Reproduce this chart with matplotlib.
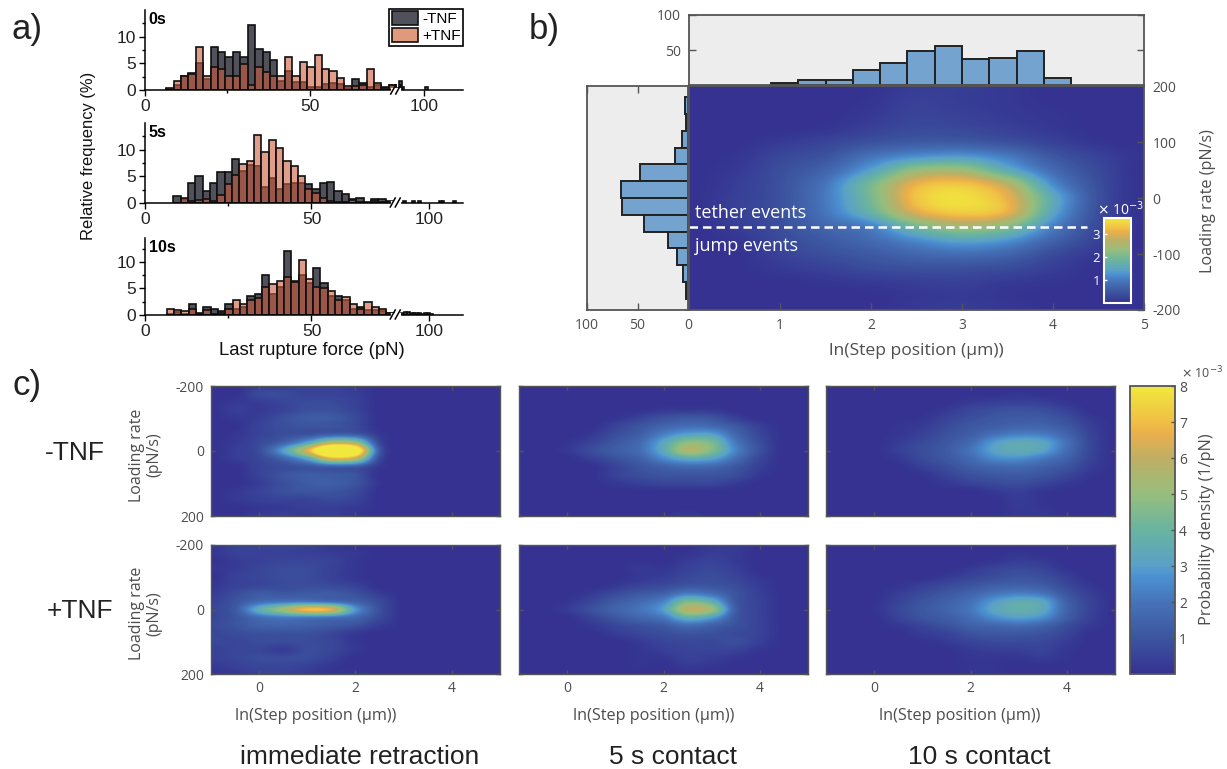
import numpy as np
import matplotlib
matplotlib.use("Agg")
import matplotlib.pyplot as plt
from matplotlib.colors import LinearSegmentedColormap, Normalize
from matplotlib.cm import ScalarMappable
from matplotlib.lines import Line2D
from matplotlib.patches import Patch

plt.rcParams["axes.unicode_minus"] = False
W, H = 1227, 769
# ---------- panel a data ----------
a_titles = ["0s", "5s", "10s"]
a_first = [6.4, 8.5, 6.5]
a_width = [2.25, 2.2, 2.2]
a_break = [76.15, 75.3, 75.3]
a_comp = [0.356, 0.4, 0.4]
a_xmax = [133, 125.8, 125.8]
a0_dark = [0.1, 1.0, 2.7, 3.1, 5.0, 2.1, 8.1, 7.1, 6.1, 7.1, 6.1, 12.1, 7.6, 7.1, 5.6, 1.6, 3.6, 1.5, 1.5, 0.6, 0.6,
           1.1, 1.3, 1.1, 0.4, 2.0, 1.3, 0.6, 0.9, 0.6, 0.9, 0.3, 1.7, 0.6, 0, 0, 0, 0, 0, 0, 0, 0, 0.6]
a0_orange = [0.4, 1.7, 2.6, 3.0, 8.0, 2.7, 4.3, 3.9, 2.6, 2.6, 4.8, 0.9, 4.3, 3.4, 2.6, 2.7, 6.2, 2.7, 5.3, 4.4, 6.6,
             4.0, 3.6, 2.2, 0.8, 0.8, 0.9, 4.0, 1.3, 0.4, 0.9, 0, 0.4, 0, 0, 0, 0, 0, 0, 0, 0, 0, 0]
a1_dark = [1.4, 0.7, 3.7, 5.0, 2.3, 3.7, 5.9, 5.9, 8.2, 6.0, 7.2, 7.0, 3.0, 4.7, 2.6, 3.6, 3.7, 3.8, 3.6, 2.6, 3.7,
           4.0, 2.3, 1.7, 0.7, 1.0, 0.1, 0.7, 0.7, 0.3, 0, 0, 0, 0.4, 0, 0, 0.3, 0, 0.3, 0, 0, 0, 0, 0, 0, 0.3, 0.3, 0, 0, 0, 0.3]
a1_orange = [0, 0.9, 0.3, 0.5, 0.8, 0.3, 1.5, 3.5, 5.2, 7.3, 7.8, 12.8, 9.6, 11.9, 10.3, 7.8, 7.0, 5.0, 2.6, 1.9, 0.9,
             0.3, 0.1, 0.1, 0.5, 0.2, 0, 0.3, 0.2, 0, 0, 0, 0, 0, 0, 0, 0, 0, 0, 0, 0, 0, 0, 0, 0, 0, 0, 0, 0, 0, 0]
a2_dark = [0.2, 0.6, 0.2, 2.0, 0.4, 1.6, 1.2, 0.8, 2.0, 1.2, 1.6, 3.6, 4.0, 7.6, 4.0, 5.3, 12.0, 6.4, 7.5, 6.0, 8.8,
           6.0, 3.6, 3.6, 2.8, 1.2, 1.5, 0.9, 0.9, 0.8, 0.4, 0, 0, 0.45, 0.5, 0.5, 0.4, 0.35, 0.3, 0.3, 0.25, 0.3, 0.3, 0.25]
a2_orange = [1.2, 0.9, 0.7, 1.1, 0.2, 0.9, 0.1, 0.3, 1.2, 2.8, 2.0, 2.8, 3.2, 5.2, 5.9, 6.4, 7.2, 6.2, 10.4, 6.8, 5.2,
             5.0, 4.5, 2.8, 3.4, 2.1, 1.2, 2.5, 1.5, 1.2, 0.3, 0, 0, 0, 0, 0, 0, 0, 0, 0, 0, 0, 0, 0]
a_dark = [a0_dark, a1_dark, a2_dark]
a_orange = [a0_orange, a1_orange, a2_orange]
a_legend = ["-TNF", "+TNF"]

# ---------- panel b data ----------
b_top_edges = [0.9, 1.2, 1.5, 1.8, 2.1, 2.4, 2.7, 3.0, 3.3, 3.6, 3.9, 4.2]
b_top_vals = [3, 7, 7, 22, 32, 48, 55, 37, 39, 48, 10]
b_left_edges = [180, 150, 120, 90, 60, 30, 0, -30, -60, -90, -120, -150, -180]
b_left_vals = [3, 1.5, 6, 13, 48, 66, 65, 44, 20, 11, 4.5, 1.5]
b_x = [0, .5, 1, 1.5, 2, 2.5, 3, 3.5, 4, 4.5, 5]
b_y = [200, 175, 150, 125, 100, 75, 50, 25, 0, -25, -50, -75, -100, -125, -150, -175, -200]
b_map = [
 [0, 0, 0, 0, .03, .15, .16, .10, 0, 0, 0],
 [0, 0, 0, 0, .05, .20, .15, .10, 0, 0, 0],
 [0, 0, 0, 0, .10, .25, .20, .12, .05, 0, 0],
 [0, 0, 0, .05, .20, .32, .30, .20, .08, 0, 0],
 [0, 0, .12, .25, .42, .55, .55, .42, .22, .05, 0],
 [0, .05, .28, .45, .90, 1.2, 1.3, 1.0, .50, .22, .03],
 [0, .10, .38, .70, 1.4, 2.3, 2.4, 1.6, .80, .32, 0],
 [0, .15, .42, .95, 2.0, 3.1, 3.3, 2.7, 1.2, .38, 0],
 [0, .18, .42, 1.0, 2.0, 3.3, 3.6, 3.1, 1.6, .42, 0],
 [0, .20, .42, .95, 1.8, 3.0, 3.4, 3.1, 1.5, .38, 0],
 [0, .15, .38, .75, 1.1, 2.0, 2.5, 2.2, 1.1, .32, 0],
 [0, .06, .32, .55, .80, 1.2, 1.5, 1.3, .70, .22, 0],
 [0, 0, .22, .40, .55, .75, .85, .72, .35, .10, 0],
 [0, 0, .12, .22, .35, .42, .42, .35, .18, 0, 0],
 [0, 0, 0, .06, .12, .18, .20, .12, .05, 0, 0],
 [0, 0, 0, 0, 0, .08, .12, .05, 0, 0, 0],
 [0, 0, 0, 0, 0, .12, .15, .10, 0, 0, 0],
]

# ---------- panel c data ----------
c_x = [-1, -.5, 0, .5, 1, 1.5, 2, 2.5, 3, 3.5, 4, 4.5, 5]
c_y = [-200, -175, -150, -125, -100, -75, -50, -25, 0, 25, 50, 75, 100, 125, 150, 175, 200]
c_minus_0 = [
 [0, 0, .2, .25, .5, .55, .25, 0, 0, 0, 0, 0, 0],
 [0, 0, .7, .7, .5, .5, .35, 0, 0, 0, 0, 0, 0],
 [0, .2, .35, .6, .7, .7, .45, 0, 0, 0, 0, 0, 0],
 [0, .35, .25, .5, .85, .85, .5, 0, 0, 0, 0, 0, 0],
 [0, .2, .35, .85, 1.2, 1.2, .7, 0, 0, 0, 0, 0, 0],
 [0, 0, .5, .85, 1.0, 1.0, .7, 0, 0, 0, 0, 0, 0],
 [0, .15, .5, .8, .95, 1.3, 1.2, .2, 0, 0, 0, 0, 0],
 [0, .25, .65, 1.4, 3.0, 5.5, 5.0, .6, 0, 0, 0, 0, 0],
 [0, .35, .8, 3.0, 6.5, 11.0, 9.5, 1.2, 0, 0, 0, 0, 0],
 [0, .3, .6, 1.5, 3.2, 6.5, 5.8, .7, 0, 0, 0, 0, 0],
 [0, 0, .5, .75, 1.0, 1.3, 1.2, .2, 0, 0, 0, 0, 0],
 [0, 0, .5, 1.0, 1.3, 1.2, 1.0, 0, 0, 0, 0, 0, 0],
 [0, 0, .35, .85, 1.2, 1.3, 1.0, .15, 0, 0, 0, 0, 0],
 [0, .2, .5, .85, 1.0, 1.0, .7, 0, 0, 0, 0, 0, 0],
 [0, .2, .4, .5, .5, .7, .5, 0, 0, 0, 0, 0, 0],
 [0, 0, .15, .25, .35, .35, .25, 0, 0, 0, 0, 0, 0],
 [0, 0, .25, .4, .25, .4, .15, 0, 0, 0, 0, 0, 0],
]
c_minus_5 = [
 [0, 0, 0, 0, 0, 0, 0, 0, 0, 0, 0, 0, 0],
 [0, 0, 0, 0, 0, 0, 0, 0, 0, 0, 0, 0, 0],
 [0, 0, 0, 0, 0, 0, 0, 0, 0, 0, 0, 0, 0],
 [0, 0, 0, 0, 0, 0, .2, .2, .2, 0, 0, 0, 0],
 [0, 0, 0, 0, .1, .5, .9, 1.1, 1.0, .4, 0, 0, 0],
 [0, 0, 0, 0, .5, 1.0, 1.5, 1.8, 1.7, 1.1, .4, 0, 0],
 [0, 0, 0, .2, .8, 1.3, 2.3, 3.0, 3.0, 1.6, .6, 0, 0],
 [0, 0, .1, .5, 1.1, 1.7, 3.2, 4.8, 4.4, 2.1, .8, 0, 0],
 [0, 0, .2, .8, 1.3, 1.8, 3.4, 5.6, 4.6, 2.4, .9, 0, 0],
 [0, 0, 0, .4, .9, 1.4, 2.5, 3.4, 3.1, 1.8, .6, 0, 0],
 [0, 0, 0, 0, .5, 1.0, 1.4, 1.7, 1.6, 1.1, .4, 0, 0],
 [0, 0, 0, 0, .5, .8, 1.0, 1.0, 1.0, .8, .2, 0, 0],
 [0, 0, 0, 0, .2, .4, .6, .6, .6, .3, 0, 0, 0],
 [0, 0, 0, 0, 0, 0, 0, 0, 0, 0, 0, 0, 0],
 [0, 0, 0, 0, 0, 0, 0, 0, 0, 0, 0, 0, 0],
 [0, 0, 0, 0, 0, 0, 0, 0, 0, 0, 0, 0, 0],
 [0, 0, 0, 0, 0, 0, 0, .3, 0, 0, 0, 0, 0],
]
c_minus_10 = [
 [0, 0, 0, 0, 0, 0, 0, 0, 0, 0, 0, 0, 0],
 [0, 0, 0, 0, 0, 0, 0, 0, .1, 0, 0, 0, 0],
 [0, 0, 0, 0, 0, 0, .2, .35, .4, .35, .1, 0, 0],
 [0, 0, 0, 0, 0, .2, .6, .8, .9, .8, .45, 0, 0],
 [0, 0, 0, 0, .1, .5, .8, 1.1, 1.2, 1.15, .8, .2, 0],
 [0, 0, 0, .1, .3, .7, 1.1, 1.3, 1.5, 1.5, 1.1, .4, 0],
 [0, 0, 0, .15, .45, .9, 1.3, 1.9, 2.3, 2.2, 1.5, .5, 0],
 [0, 0, 0, .3, .7, 1.1, 1.7, 2.9, 3.4, 3.2, 1.9, .6, 0],
 [0, 0, 0, .4, .8, 1.2, 2.0, 3.1, 3.5, 3.1, 1.8, .6, 0],
 [0, 0, 0, .2, .7, 1.1, 1.7, 2.5, 2.6, 2.1, 1.4, .5, 0],
 [0, 0, 0, 0, .4, .8, 1.3, 1.6, 1.7, 1.4, 1.0, .35, 0],
 [0, 0, 0, 0, .1, .5, .9, 1.1, 1.2, 1.0, .6, .15, 0],
 [0, 0, 0, 0, 0, .2, .5, .7, .8, .55, .25, 0, 0],
 [0, 0, 0, 0, 0, 0, 0, .25, .4, .15, 0, 0, 0],
 [0, 0, 0, 0, 0, 0, 0, 0, .3, .1, 0, 0, 0],
 [0, 0, 0, 0, 0, 0, 0, 0, .25, .15, 0, 0, 0],
 [0, 0, 0, 0, 0, 0, 0, 0, .2, .2, 0, 0, 0],
]
c_plus_0 = [
 [.15, .45, .5, .6, .45, .15, 0, 0, 0, 0, 0, 0, 0],
 [.15, .45, .45, .45, .4, .3, .2, 0, 0, 0, 0, 0, 0],
 [0, .3, .45, .6, .6, .5, .15, 0, 0, 0, 0, 0, 0],
 [.15, .3, .6, .75, .75, .45, .15, 0, 0, 0, 0, 0, 0],
 [0, .45, .6, .75, .75, .45, .15, 0, 0, 0, 0, 0, 0],
 [.15, .45, .6, .75, .8, .7, .45, 0, 0, 0, 0, 0, 0],
 [.3, .75, 1.2, 1.1, 1.2, 1.2, .9, .3, 0, 0, 0, 0, 0],
 [.45, 1.0, 1.7, 2.0, 2.1, 1.8, 1.4, .7, 0, 0, 0, 0, 0],
 [.6, 1.2, 3.5, 5.2, 7.0, 6.5, 2.8, .9, 0, 0, 0, 0, 0],
 [.6, 1.0, 1.8, 2.2, 2.2, 2.0, 1.6, .7, 0, 0, 0, 0, 0],
 [.7, 1.0, 1.4, 1.5, 1.4, 1.2, .9, .3, 0, 0, 0, 0, 0],
 [.6, .75, .9, .9, .9, .6, .2, 0, 0, 0, 0, 0, 0],
 [.7, .6, .75, .75, .75, .6, .15, 0, 0, 0, 0, 0, 0],
 [.45, .6, .6, .3, .75, .6, .2, 0, 0, 0, 0, 0, 0],
 [.45, .6, .75, .75, .75, .45, 0, 0, 0, 0, 0, 0, 0],
 [.2, .45, .6, .6, .45, .15, 0, 0, 0, 0, 0, 0, 0],
 [.15, .2, .45, .45, .3, .1, .15, 0, 0, 0, 0, 0, 0],
]
c_plus_5 = [
 [0, 0, 0, 0, 0, 0, 0, 0, .25, .3, 0, 0, 0],
 [0, 0, 0, 0, 0, 0, 0, .1, .3, .25, 0, 0, 0],
 [0, 0, 0, 0, 0, .1, 0, .3, .5, .25, 0, 0, 0],
 [0, 0, 0, 0, 0, .25, .2, .5, .65, .4, 0, 0, 0],
 [0, 0, 0, 0, 0, .2, .35, .65, .8, .55, .15, 0, 0],
 [0, 0, 0, 0, .2, .5, .7, 1.0, 1.0, .75, .3, 0, 0],
 [0, 0, 0, .25, .7, 1.1, 1.4, 2.2, 1.8, 1.0, .4, 0, 0],
 [0, 0, .1, .6, 1.2, 1.7, 2.4, 4.4, 3.6, 1.1, .5, 0, 0],
 [0, 0, .3, .9, 1.5, 2.0, 3.0, 5.8, 5.2, 1.3, .5, 0, 0],
 [0, 0, 0, .5, 1.1, 1.6, 2.1, 3.7, 3.0, 1.1, .5, 0, 0],
 [0, 0, 0, .2, .6, .9, 1.2, 1.8, 1.4, .9, .5, 0, 0],
 [0, 0, 0, 0, .3, .6, .8, 1.0, .9, .7, .5, 0, 0],
 [0, 0, 0, 0, 0, .25, .55, .65, .65, .8, .4, 0, 0],
 [0, 0, 0, 0, 0, .15, .4, .55, .55, .5, .15, 0, 0],
 [0, 0, 0, 0, 0, .1, .15, .45, .35, .15, 0, 0, 0],
 [0, 0, 0, 0, 0, .1, 0, .25, .15, 0, 0, 0, 0],
 [0, 0, 0, 0, 0, 0, 0, 0, 0, 0, 0, 0, 0],
]
c_plus_10 = [
 [0, 0, 0, 0, 0, 0, 0, 0, 0, 0, 0, 0, 0],
 [0, 0, 0, 0, 0, 0, 0, 0, .1, 0, 0, 0, 0],
 [0, 0, 0, 0, 0, 0, 0, .15, .35, .25, 0, 0, 0],
 [0, 0, 0, 0, 0, 0, .25, .55, .7, .55, .1, 0, 0],
 [0, 0, 0, 0, 0, .25, .55, .8, 1.0, .85, .4, 0, 0],
 [0, 0, 0, .1, .4, .7, 1.0, 1.3, 1.4, 1.25, .65, .15, 0],
 [0, 0, 0, .35, .7, 1.1, 1.5, 2.0, 2.3, 2.0, 1.0, .35, 0],
 [0, 0, .05, .5, 1.0, 1.4, 1.9, 2.9, 3.5, 3.2, 1.4, .5, 0],
 [0, 0, .1, .6, 1.1, 1.5, 2.1, 3.2, 3.7, 3.3, 1.5, .5, 0],
 [0, 0, 0, .5, 1.0, 1.3, 1.8, 2.6, 3.0, 2.6, 1.3, .4, 0],
 [0, 0, 0, .2, .55, .95, 1.4, 1.6, 1.8, 1.5, .8, .25, 0],
 [0, 0, 0, 0, .3, .5, .95, 1.1, 1.1, .95, .55, 0, 0],
 [0, 0, 0, 0, .05, .25, .55, .7, .7, .65, .3, 0, 0],
 [0, 0, 0, 0, 0, 0, .25, .4, .4, .5, .15, 0, 0],
 [0, 0, 0, 0, 0, 0, .15, .15, .15, .3, .1, 0, 0],
 [0, 0, 0, 0, 0, 0, .1, .1, 0, 0, 0, 0, 0],
 [0, 0, 0, 0, 0, 0, .1, .1, 0, 0, 0, 0, 0],
]
c_maps = [[c_minus_0, c_minus_5, c_minus_10], [c_plus_0, c_plus_5, c_plus_10]]
c_columns = ["immediate retraction", "5 s contact", "10 s contact"]
c_rows = ["-TNF", "+TNF"]

# ---------- style ----------
ARIAL = "Liberation Sans"
MYRIAD = "Open Sans"
GREY = "#4d4d4d"
SPINE = "#555555"
INTERP = "catrom"
cm_levels = [0, 1, 2, 2.7, 3, 4, 5, 6, 6.7, 7, 8]
cm_colors = ["#353291", "#3c559f", "#4673b9", "#4b91d2", "#5aa0c8", "#69b4a0", "#96be7d", "#beaf64", "#ebaf4b", "#f0be46", "#f0e83c"]
parula = LinearSegmentedColormap.from_list("par", [(l / 8, c) for l, c in zip(cm_levels, cm_colors)], N=256)
DARK = (0.26, 0.26, 0.30, 0.92)
ORANGE = (0.80, 0.36, 0.24, 0.60)
BLUE = "#75a3d0"

fig = plt.figure(figsize=(W / 100, H / 100), dpi=100)


def axpx(l, t, r, b, **kw):
    return fig.add_axes([l / W, 1 - b / H, (r - l) / W, (b - t) / H], **kw)


def ftext(x, y, s, **kw):
    kw.setdefault("ha", "center")
    kw.setdefault("va", "center")
    return fig.text(x / W, 1 - y / H, s, **kw)


def fline(xs, ys, **kw):
    fig.add_artist(Line2D([x / W for x in xs], [1 - y / H for y in ys], transform=fig.transFigure, **kw))


# ---------- panel a ----------
a_boxes = [(145, 10, 463, 90), (145, 123, 463, 203), (145, 238, 463, 315)]
for i, (l, t, r, b) in enumerate(a_boxes):
    ax = axpx(l, t, r, b)
    brk, k = a_break[i], a_comp[i]
    fwd = lambda x, brk=brk, k=k: np.where(np.asarray(x) <= brk, x, brk + (np.asarray(x) - brk) * k)
    inv = lambda y, brk=brk, k=k: np.where(np.asarray(y) <= brk, y, brk + (np.asarray(y) - brk) / k)
    ax.set_xscale("function", functions=(fwd, inv))
    edges = a_first[i] + a_width[i] * np.arange(len(a_dark[i]))
    for vals, col in ((a_dark[i], DARK), (a_orange[i], ORANGE)):
        v = np.array(vals)
        m = v > 0
        ax.bar(edges[m], v[m], width=a_width[i], align="edge", facecolor=col, edgecolor="#101010", linewidth=1.2)
    ax.set_xlim(0, a_xmax[i])
    ax.set_ylim(0, 15 if i < 2 else 14.5)
    ax.spines[["top", "right"]].set_visible(False)
    ax.spines[["left", "bottom"]].set_linewidth(1.1)
    ax.patch.set_alpha(0)
    ax.set_xticks([0, 50, 100])
    ax.set_xticks([25], minor=True)
    ax.set_yticks([0, 5, 10])
    ax.set_yticks([2.5, 7.5, 12.5], minor=True)
    ax.tick_params(axis="both", which="major", length=4, width=1, labelsize=12.5, pad=2.5, labelcolor="#222222")
    ax.tick_params(axis="both", which="minor", length=2.5, width=1)
    for lab in ax.get_xticklabels() + ax.get_yticklabels():
        lab.set_fontfamily(ARIAL)
    ax.text(0.012, 0.98, a_titles[i], transform=ax.transAxes, fontfamily=ARIAL, fontsize=11.5, fontweight="bold", va="top", ha="left")
    bx = l + (fwd(brk) / fwd(a_xmax[i])) * (r - l)
    fline([bx - 3, bx + 3], [b, b], color="white", lw=3, zorder=5)
    for dx in (-3, 2):
        fline([bx + dx - 2.5, bx + dx + 2.5], [b + 4, b - 5], color="black", lw=1.1, zorder=6)
    if i == 0:
        handles = [Patch(facecolor=DARK, edgecolor="#101010", lw=1.2), Patch(facecolor=(.88, .60, .48), edgecolor="#101010", lw=1.2)]
        leg = fig.legend(handles, a_legend, loc="upper right", bbox_to_anchor=(463 / W, 1 - 9 / H), frameon=True, fancybox=False,
                         edgecolor="black", framealpha=1, prop={"family": ARIAL, "size": 11}, handlelength=1.7, handleheight=1.0,
                         borderpad=0.15, labelspacing=0.12, handletextpad=0.3, borderaxespad=0)
        leg.get_frame().set_linewidth(1.2)
ftext(312, 350, "Last rupture force (pN)", fontfamily=ARIAL, fontsize=13.3, color="#111111")
ftext(89, 156, "Relative frequency (%)", fontfamily=ARIAL, fontsize=11.9, rotation=90, color="#111111")

# ---------- panel b ----------
L, R, T, B = 689, 1144, 86, 310
bx_arr, by_arr = np.array(b_x), np.array(b_y)
dxb, dyb = bx_arr[1] - bx_arr[0], by_arr[0] - by_arr[1]
axm = axpx(L, T, R, B)
axm.imshow(np.array(b_map), extent=[bx_arr[0] - dxb / 2, bx_arr[-1] + dxb / 2, by_arr[-1] - dyb / 2, by_arr[0] + dyb / 2],
           aspect="auto", origin="upper", cmap=parula, vmin=0, vmax=3.7, interpolation=INTERP)
axm.set_xlim(0, 5)
axm.set_ylim(-200, 200)
axm.set_xticks([1, 2, 3, 4, 5])
axm.yaxis.tick_right()
axm.set_yticks([-200, -100, 0, 100, 200])
axm.tick_params(direction="in", length=5, width=1, color=SPINE, labelsize=10, labelcolor=GREY, pad=6)
for lab in axm.get_xticklabels() + axm.get_yticklabels():
    lab.set_fontfamily(MYRIAD)
for s in axm.spines.values():
    s.set_color(SPINE)
    s.set_linewidth(1.3)
axm.plot([0, 4.37], [-51, -51], color="white", lw=1.8, dashes=(3.4, 2))
axm.text(0.07, -27, "tether events", color="white", fontfamily=MYRIAD, fontsize=13, va="center")
axm.text(0.07, -86, "jump events", color="white", fontfamily=MYRIAD, fontsize=13, va="center")

axt = axpx(L, 15, R, 85, facecolor="#ededed")
axt.bar(b_top_edges[:-1], b_top_vals, width=np.diff(b_top_edges), align="edge", facecolor=BLUE, edgecolor="#222222", linewidth=1.4)
axt.set_xlim(0, 5)
axt.set_ylim(0, 100)
axt.set_xticks([])
axt.set_yticks([50, 100])
axt.tick_params(axis="y", direction="in", length=5, width=1, color=SPINE, labelsize=10, labelcolor=GREY, left=True, right=True, pad=6)
for lab in axt.get_yticklabels():
    lab.set_fontfamily(MYRIAD)
for s in axt.spines.values():
    s.set_color(SPINE)
    s.set_linewidth(1.3)

axl = axpx(587, T, 688, B, facecolor="#ededed")
axl.barh(b_left_edges[:-1], b_left_vals, height=np.diff(b_left_edges), align="edge", facecolor=BLUE, edgecolor="#222222", linewidth=1.4)
axl.set_xlim(100, 0)
axl.set_ylim(-200, 200)
axl.set_yticks([])
axl.set_xticks([100, 50, 0])
axl.tick_params(axis="x", direction="in", length=5, width=1, color=SPINE, labelsize=10, labelcolor=GREY, top=True, pad=6)
for lab in axl.get_xticklabels():
    lab.set_fontfamily(MYRIAD)
for s in axl.spines.values():
    s.set_color(SPINE)
    s.set_linewidth(1.3)

ftext(916, 351, "ln(Step position (µm))", fontfamily=MYRIAD, fontsize=12.6, color=GREY)
ftext(1208, 201, "Loading rate (pN/s)", fontfamily=MYRIAD, fontsize=11.6, color=GREY, rotation=90)

cax_in = axpx(1104, 218, 1131, 303)
cbi = fig.colorbar(ScalarMappable(Normalize(0, 3.7), parula), cax=cax_in)
cbi.set_ticks([1, 2, 3])
cax_in.yaxis.set_ticks_position("left")
cax_in.tick_params(length=2.5, width=1, color="white", labelcolor="white", labelsize=9.5, pad=3, direction="in")
for lab in cax_in.get_yticklabels():
    lab.set_fontfamily(MYRIAD)
cbi.outline.set_edgecolor("white")
cbi.outline.set_linewidth(1.5)
ftext(1120, 210, r"$\times$ 10$^{-3}$", color="white", fontfamily=MYRIAD, fontsize=10)

# ---------- panel c ----------
c_cols = [(211, 500), (519, 808), (826, 1115)]
c_rowsp = [(386, 516), (545, 674)]
c_xlabel_pos = [316, 654, 960]
c_bottom_pos = [359.5, 673, 979]
c_row_x = [75, 80]
cx_arr, cy_arr = np.array(c_x), np.array(c_y)
dxc, dyc = cx_arr[1] - cx_arr[0], cy_arr[1] - cy_arr[0]
for ri, (t, b) in enumerate(c_rowsp):
    for ci, (l, r) in enumerate(c_cols):
        ax = axpx(l, t, r, b)
        ax.imshow(np.array(c_maps[ri][ci]), extent=[cx_arr[0] - dxc / 2, cx_arr[-1] + dxc / 2, cy_arr[-1] + dyc / 2, cy_arr[0] - dyc / 2],
                  aspect="auto", origin="upper", cmap=parula, vmin=0, vmax=8, interpolation=INTERP)
        ax.set_xlim(-1, 5)
        ax.set_ylim(200, -200)
        ax.set_xticks([0, 2, 4])
        ax.set_yticks([-200, 0, 200])
        ax.tick_params(direction="in", length=3, width=1, color=SPINE, top=True, right=True, labelsize=10, labelcolor=GREY, pad=5,
                       labelbottom=(ri == 1), labelleft=(ci == 0))
        for lab in ax.get_xticklabels() + ax.get_yticklabels():
            lab.set_fontfamily(MYRIAD)
        for s in ax.spines.values():
            s.set_color(SPINE)
            s.set_linewidth(1.0)
        if ri == 1:
            ftext(c_xlabel_pos[ci], 716, "ln(Step position (µm))", fontfamily=MYRIAD, fontsize=11.7, color=GREY)
    ftext(146, (t + b) / 2 + 4, "Loading rate\n(pN/s)", fontfamily=MYRIAD, fontsize=11.5, color=GREY, rotation=90, linespacing=1.1)
    ftext(c_row_x[ri], (t + b) / 2 + 2, c_rows[ri], fontfamily=ARIAL, fontsize=19, color="#222222")

for xp, s in zip(c_bottom_pos, c_columns):
    ftext(xp, 757, s, fontfamily=ARIAL, fontsize=19, color="#222222")

cax = axpx(1130, 386, 1175, 674)
cb = fig.colorbar(ScalarMappable(Normalize(0, 8), parula), cax=cax)
cb.set_ticks(range(1, 9))
cax.tick_params(length=3, width=1, color=SPINE, labelsize=10, labelcolor=GREY, pad=3, direction="in")
for lab in cax.get_yticklabels():
    lab.set_fontfamily(MYRIAD)
cb.outline.set_edgecolor(SPINE)
cb.outline.set_linewidth(1.3)
ftext(1202, 373, r"$\times$ 10$^{-3}$", color=GREY, fontfamily=MYRIAD, fontsize=9)
ftext(1207, 529, "Probability density (1/pN)", fontfamily=MYRIAD, fontsize=11.7, color=GREY, rotation=90)

# panel letters
for x, y, s in [(27, 29, "a)"), (544, 29, "b)"), (27, 386, "c)")]:
    ftext(x, y, s, fontfamily=ARIAL, fontsize=25, color="#222222")

fig.savefig("out.png", dpi=100)
